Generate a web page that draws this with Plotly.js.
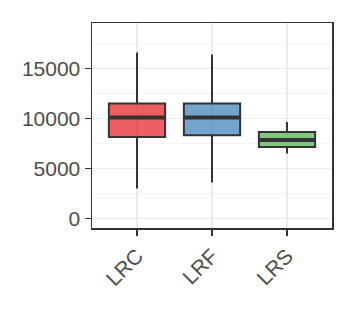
<!DOCTYPE html>
<html>
<head>
<meta charset="utf-8">
<script src="https://cdn.plot.ly/plotly-3.0.1.min.js"></script>
<style>html,body{margin:0;padding:0;background:#fff;}#chart{width:352px;height:310px;}</style>
</head>
<body>
<div id="chart"></div>
<script>
const categories = ['LRC', 'LRF', 'LRS'];
const lowerWhisker = [3000, 3600, 6500];
const q1Values = [8160, 8330, 7150];
const medianValues = [10100, 10100, 7850];
const q3Values = [11500, 11500, 8650];
const upperWhisker = [16600, 16400, 9650];
const fillColors = ['rgba(228,26,28,0.7)', 'rgba(55,126,184,0.7)', 'rgba(77,175,74,0.7)'];
const yTicks = [0, 5000, 10000, 15000];

const boxWidth = 0.75;
const traces = categories.map((c, i) => ({
  type: 'box',
  x: [c],
  q1: [q1Values[i]],
  median: [medianValues[i]],
  q3: [q3Values[i]],
  lowerfence: [lowerWhisker[i]],
  upperfence: [upperWhisker[i]],
  fillcolor: fillColors[i],
  line: {color: '#333333', width: 2},
  whiskerwidth: 0,
  width: boxWidth,
  boxpoints: false,
  hoverinfo: 'skip',
  showlegend: false
}));

// thicker median lines (ggplot fatten), drawn on an overlaid numeric axis
const mx = [], my = [];
categories.forEach((c, i) => {
  mx.push(i - boxWidth / 2 + 0.01, i + boxWidth / 2 - 0.01, null);
  my.push(medianValues[i], medianValues[i], null);
});
traces.push({
  type: 'scatter', mode: 'lines', x: mx, y: my, xaxis: 'x2',
  line: {color: '#333333', width: 4}, hoverinfo: 'skip', showlegend: false,
  connectgaps: false
});

const layout = {
  width: 352, height: 310,
  margin: {l: 92, r: 20, t: 23, b: 82},
  paper_bgcolor: '#ffffff', plot_bgcolor: '#ffffff',
  boxmode: 'overlay',
  font: {family: 'Liberation Sans, Arial, sans-serif', size: 21, color: '#4d4d4d'},
  xaxis: {
    type: 'category', categoryarray: categories, categoryorder: 'array',
    range: [-0.6, 2.6], showgrid: true, gridcolor: '#ebebeb', gridwidth: 1.5,
    showline: true, linecolor: '#333333', linewidth: 1.5, mirror: true,
    ticks: 'outside', ticklen: 6, tickcolor: '#333333', tickwidth: 1.5,
    tickangle: -45, tickfont: {size: 21, color: '#4d4d4d'}, zeroline: false
  },
  xaxis2: {overlaying: 'x', range: [-0.6, 2.6], visible: false, showgrid: false},
  yaxis: {
    range: [-940, 19560], tickvals: yTicks, ticktext: yTicks.map(String),
    showgrid: true, gridcolor: '#ebebeb', gridwidth: 1.5,
    minor: {dtick: 2500, tick0: 0, showgrid: true, gridcolor: '#f3f3f3', gridwidth: 1},
    showline: true, linecolor: '#333333', linewidth: 1.5, mirror: true,
    ticks: 'outside', ticklen: 6, tickcolor: '#333333', tickwidth: 1.5,
    tickfont: {size: 21, color: '#4d4d4d'}, zeroline: false
  }
};
Plotly.newPlot('chart', traces, layout, {displayModeBar: false, staticPlot: true});
</script>
</body>
</html>
